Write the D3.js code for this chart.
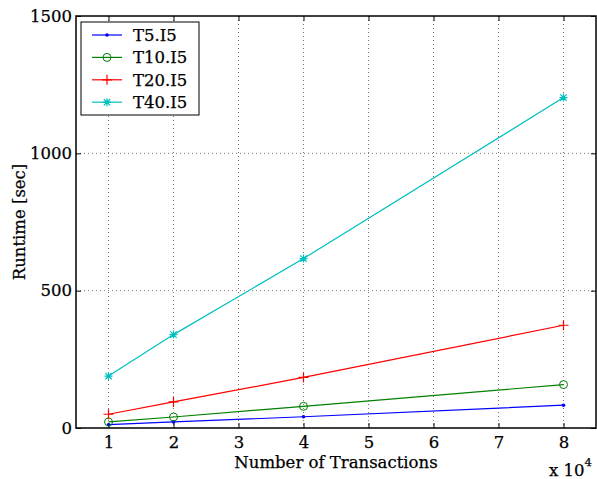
<!DOCTYPE html>
<html><head><meta charset="utf-8">
<script src="https://cdn.jsdelivr.net/npm/d3@7/dist/d3.min.js"></script>
<style>body{margin:0;background:#fff}svg{display:block}text{font-family:"DejaVu Serif",serif;fill:#000;stroke:#000;stroke-width:0.25px}</style>
</head><body><svg id="c" width="597" height="479"></svg>
<script>
const xValues = [1, 2, 4, 8];
const seriesNames = ["T5.I5", "T10.I5", "T20.I5", "T40.I5"];
const t5 = [12, 22, 41, 83];
const t10 = [22, 40, 79, 158];
const t20 = [50, 95, 184, 374];
const t40 = [189, 340, 617, 1203];
const xTicks = [1, 2, 3, 4, 5, 6, 7, 8];
const yTicks = [0, 500, 1000, 1500];
const colors = ["#0000ff", "#008000", "#ff0000", "#00bfbf"];
const markers = ["dot", "circle", "plus", "star"];

const series = [t5, t10, t20, t40].map((v, i) => ({name: seriesNames[i], values: v, color: colors[i], marker: markers[i]}));

const FS = "16.5px";
const svg = d3.select("#c");
const L = 76, R = 596, T = 16, B = 428;
const x = d3.scaleLinear().domain([0.5, 8.5]).range([L, R]);
const y = d3.scaleLinear().domain([0, 1500]).range([B, T]);

// grid
const g = svg.append("g");
g.selectAll(".vg").data(xTicks).join("line")
  .attr("x1", d => x(d)).attr("x2", d => x(d)).attr("y1", T).attr("y2", B)
  .attr("stroke", "#777").attr("stroke-width", 1).attr("stroke-dasharray", "1,3");
g.selectAll(".hg").data(yTicks.slice(1, 3)).join("line")
  .attr("y1", d => y(d)).attr("y2", d => y(d)).attr("x1", L).attr("x2", R)
  .attr("stroke", "#777").attr("stroke-width", 1).attr("stroke-dasharray", "1,3");

// axes with inward ticks
const tl = 5;
const xb = svg.append("g").attr("transform", `translate(0,${B})`)
  .call(d3.axisBottom(x).tickValues(xTicks).tickSize(-tl).tickPadding(8).tickFormat(d3.format("d")));
const xt = svg.append("g").attr("transform", `translate(0,${T})`)
  .call(d3.axisTop(x).tickValues(xTicks).tickSize(-tl).tickFormat(""));
const yl = svg.append("g").attr("transform", `translate(${L},0)`)
  .call(d3.axisLeft(y).tickValues(yTicks).tickSize(-tl).tickPadding(4).tickFormat(d3.format("d")));
const yr = svg.append("g").attr("transform", `translate(${R},0)`)
  .call(d3.axisRight(y).tickValues(yTicks).tickSize(-tl).tickFormat(""));
[xb, xt, yl, yr].forEach(a => {
  a.select(".domain").remove();
  a.selectAll(".tick line").attr("stroke", "#000").attr("stroke-width", 1);
  a.selectAll("text").style("font-family", "DejaVu Serif").style("font-size", FS).attr("fill", "#000");
});
svg.append("rect").attr("x", L).attr("y", T).attr("width", R - L).attr("height", B - T)
  .attr("fill", "none").attr("stroke", "#000").attr("stroke-width", 1.5);

// lines
const line = d3.line().x((d, i) => x(xValues[i])).y(d => y(d));
function drawMarker(sel, type, color, cx, cy) {
  if (type === "dot") {
    sel.append("circle").attr("cx", cx).attr("cy", cy).attr("r", 1.8).attr("fill", color);
  } else if (type === "circle") {
    sel.append("circle").attr("cx", cx).attr("cy", cy).attr("r", 4).attr("fill", "none").attr("stroke", color).attr("stroke-width", 1);
  } else if (type === "plus") {
    sel.append("path").attr("d", `M${cx-5},${cy}H${cx+5}M${cx},${cy-5}V${cy+5}`).attr("stroke", color).attr("stroke-width", 1.2);
  } else {
    const s = 4, d2 = 3.2;
    sel.append("path").attr("d", `M${cx-s},${cy}H${cx+s}M${cx},${cy-s}V${cy+s}M${cx-d2},${cy-d2}L${cx+d2},${cy+d2}M${cx-d2},${cy+d2}L${cx+d2},${cy-d2}`)
      .attr("stroke", color).attr("stroke-width", 1.2);
  }
}
series.forEach(s => {
  svg.append("path").datum(s.values).attr("d", line).attr("fill", "none").attr("stroke", s.color).attr("stroke-width", 1.2);
  const mg = svg.append("g");
  s.values.forEach((v, i) => drawMarker(mg, s.marker, s.color, x(xValues[i]), y(v)));
});

// legend
const lg = svg.append("g");
lg.append("rect").attr("x", 81).attr("y", 22).attr("width", 118).attr("height", 93)
  .attr("fill", "#fff").attr("stroke", "#000").attr("stroke-width", 1);
series.forEach((s, i) => {
  const yy = 35 + i * 22.4;
  lg.append("line").attr("x1", 92).attr("x2", 122).attr("y1", yy).attr("y2", yy).attr("stroke", s.color).attr("stroke-width", 1.2);
  drawMarker(lg, s.marker, s.color, 107, yy);
  lg.append("text").attr("x", 133).attr("y", yy + 6).style("font-size", FS).text(s.name);
});

// labels
svg.append("text").attr("x", (L + R) / 2).attr("y", 468).attr("text-anchor", "middle").style("font-size", FS).text("Number of Transactions");
svg.append("text").attr("transform", `translate(25,${(T + B) / 2}) rotate(-90)`).attr("text-anchor", "middle").style("font-size", FS).text("Runtime [sec]");
const ex = svg.append("text").attr("x", 549).attr("y", 476).style("font-size", FS);
ex.append("tspan").text("x 10");
ex.append("tspan").attr("dy", -10).style("font-size", "11.5px").text("4");
</script></body></html>
